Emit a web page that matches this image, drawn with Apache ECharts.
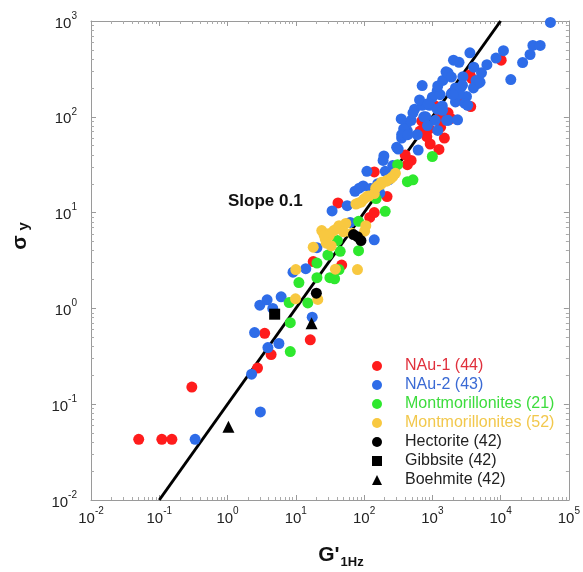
<!DOCTYPE html>
<html>
<head>
<meta charset="utf-8">
<script src="https://cdn.jsdelivr.net/npm/echarts@6/dist/echarts.min.js"></script>
<style>html,body{margin:0;padding:0;background:#fff;}#c{width:583px;height:572px;}</style>
</head>
<body>
<div id="c"></div>
<script>
// ---- data ----
const xExpRange = [-2, 5];
const yExpRange = [-2, 3];
const slopeLine = [[0.1, 0.01], [10000, 1000]];

const nau1 = [[0.05,0.043],[0.109,0.043],[0.153,0.043],[0.30,0.151],[2.75,0.238],[3.5,0.55],[4.35,0.33],[16.3,0.47],[18,3.08],[47,2.83],[41.5,12.6],[121,8.9],[141,10],[217,14.7],[489,35],[431,31.6],[930,52],[1250,45.7],[830,62],[1280,100],[1860,96],[3650,128],[3550,275],[10200,390],[141,26.6],[660,71],[1320,78],[700,90],[1100,130],[2000,180],[2500,150],[1500,60],[400,40],[3800,250],[1700,110],[900,75]];

const nau2 = [[0.335,0.043],[3.03,0.083],[2.25,0.206],[2.49,0.56],[3.9,0.39],[5.66,0.43],[2.97,1.08],[3.8,1.23],[4.6,1.0],[6.1,1.32],[9.1,2.39],[14,2.6],[17.4,0.81],[20.4,4.3],[34,10.4],[56.6,11.8],[62.6,7.9],[141,5.2],[73.6,16.7],[97,19],[124,17.8],[110,27],[159,20],[204,27],[190,35],[263,31],[316,46],[355,60],[431,71],[489,92],[550,120],[710,132],[800,100],[912,132],[1175,186],[1420,240],[1700,288],[2180,200],[2800,262],[2460,370],[3550,466],[4050,330],[5250,288],[4600,222],[3160,163],[2180,143],[1700,92],[1175,120],[6300,350],[8560,410],[11000,490],[14100,245],[21000,368],[27000,447],[29700,556],[38000,556],[53700,966],[2040,390],[710,212],[420,85],[600,65],[520,110],[650,150],[1000,160],[1300,170],[1585,295],[1900,260],[2600,200],[3000,138],[4370,240],[1620,92],[1100,92],[870,138],[750,100],[380,75],[355,65],[300,48],[195,39],[280,26],[230,22],[170,16],[85,18],[1400,130],[2400,170],[4000,200],[5000,230],[1900,175],[1200,210],[350,95],[620,45],[850,81],[1410,117],[2000,170],[2760,214],[1200,72],[437,65],[3300,132],[2340,93]];

const mont21 = [[8.3,0.354],[8.3,0.71],[8.0,1.15],[11.1,1.86],[15,1.14],[20.4,2.09],[20.4,2.97],[29.5,3.6],[31.6,2.09],[37,2.04],[43,2.54],[44.7,3.94],[40.7,5.1],[83,4.0],[83,8.1],[204,10.3],[150,14],[310,31.6],[431,21],[520,22],[1000,38.5]];

const mont52 = [[9.9,1.26],[21,1.24],[10,2.54],[18,4.36],[27,5.3],[28,4.8],[38,2.57],[80,2.54],[76,12.3],[91,12.9],[110,14.7],[141,15.8],[159,19],[180,20.8],[217,21.7],[263,23.7],[102,6.4],[66,6.1],[288,25.7],[245,22.7],[209,21.2],[176,19.7],[148,18],[117,14.9],[100,13.9],[83,12.6],[54,7.7],[43,7.3],[36,6.5],[31,5.8],[24,6.5],[106,7.3],[30,6.0],[40,6.8],[50,6.3],[33,4.5],[26,5.8]];

const hectorite = [[20,1.44],[70,5.9],[80,5.6],[90,5.1]];
const gibbsite = [[4.9,0.87]];
const boehmite = [[1.03,0.058],[17,0.70]];

const seriesNames = ['NAu-1 (44)','NAu-2 (43)','Montmorillonites (21)','Montmorillonites (52)','Hectorite (42)','Gibbsite (42)','Boehmite (42)'];
const markerColors = ['#ff1c1c','#2e6ce8','#2ee82e','#f8c840','#000000','#000000','#000000'];
const legendTextColors = ['#e0303c','#3a6ad4','#3cdc3c','#f2c84c','#222222','#222222','#222222'];
const symbols = ['circle','circle','circle','circle','circle','rect','triangle'];
const seriesData = [nau1, nau2, mont21, mont52, hectorite, gibbsite, boehmite];

// ---- chart ----
const FONT = 'Liberation Sans, Arial, sans-serif';
const chart = echarts.init(document.getElementById('c'), null, {renderer: 'canvas'});

function powLabel(v) {
  const e = Math.round(Math.log10(v));
  return '{b|10}{s|' + e + '}';
}
const labelRich = {
  b: {fontSize: 15, fontFamily: FONT, color: '#222', lineHeight: 20, verticalAlign: 'bottom'},
  s: {fontSize: 10, fontFamily: FONT, color: '#222', lineHeight: 20, verticalAlign: 'top'}
};
const frameLine = {show: true, lineStyle: {color: '#9a9a9a', width: 1}};
const tickIn = {show: true, inside: true, length: 5, lineStyle: {color: '#9a9a9a'}};
const minorIn = {show: true, splitNumber: 9, length: 3, lineStyle: {color: '#aaaaaa'}};

function logAxis(exps, extra) {
  return Object.assign({
    type: 'log', logBase: 10,
    min: Math.pow(10, exps[0]), max: Math.pow(10, exps[1]),
    interval: 1,
    axisLine: frameLine, axisTick: tickIn, minorTick: minorIn,
    splitLine: {show: false}, minorSplitLine: {show: false}
  }, extra);
}

const series = [{
  type: 'line', name: 'slope', data: slopeLine, showSymbol: false, symbol: 'none',
  lineStyle: {color: '#000', width: 3}, silent: true, z: 1
}];
seriesNames.forEach((n, i) => {
  series.push({
    type: 'scatter', name: n, data: seriesData[i], symbol: symbols[i],
    symbolSize: symbols[i] === 'triangle' ? 12 : 11,
    itemStyle: {color: markerColors[i], opacity: 1}, z: 2 + i
  });
});

chart.setOption({
  animation: false,
  backgroundColor: '#ffffff',
  grid: {left: 91, right: 11, top: 21, bottom: 72, containLabel: false},
  xAxis: [
    logAxis(xExpRange, {position: 'bottom', axisLabel: {margin: 6, formatter: powLabel, rich: labelRich}}),
    logAxis(xExpRange, {position: 'top', axisLabel: {show: false}})
  ],
  yAxis: [
    logAxis(yExpRange, {position: 'left', axisLabel: {margin: 14, formatter: powLabel, rich: labelRich}}),
    logAxis(yExpRange, {position: 'right', axisLabel: {show: false}})
  ],
  legend: {
    orient: 'vertical', left: 367, top: 353, padding: 5,
    itemWidth: 10, itemHeight: 10, itemGap: 3,
    selectedMode: false,
    textStyle: {fontSize: 16, fontFamily: FONT, lineHeight: 16, padding: [0, 0, 0, 18]},
    data: seriesNames.map((n, i) => ({name: n, icon: symbols[i], itemStyle: {color: markerColors[i]}, textStyle: {color: legendTextColors[i]}}))
  },
  graphic: [
    {type: 'text', left: 228, top: 193, style: {text: 'Slope 0.1', font: 'bold 17px ' + FONT, fill: '#111'}},
    {type: 'text', x: 341, y: 555, style: {
      text: "{g|G'}{s|1Hz}", align: 'center', verticalAlign: 'middle',
      rich: {g: {font: 'bold 21px ' + FONT, fill: '#111'}, s: {font: 'bold 13px ' + FONT, fill: '#111', padding: [14, 0, 0, 1]}}
    }},
    {type: 'text', x: 20, y: 236, rotation: Math.PI / 2, style: {
      text: '{a|σ}{b|y}', align: 'center', verticalAlign: 'middle',
      rich: {a: {font: 'bold 21px ' + FONT, fill: '#111'}, b: {font: 'bold 15px ' + FONT, fill: '#111', padding: [8, 0, 0, 5]}}
    }}
  ],
  series: series
});
</script>
</body>
</html>
